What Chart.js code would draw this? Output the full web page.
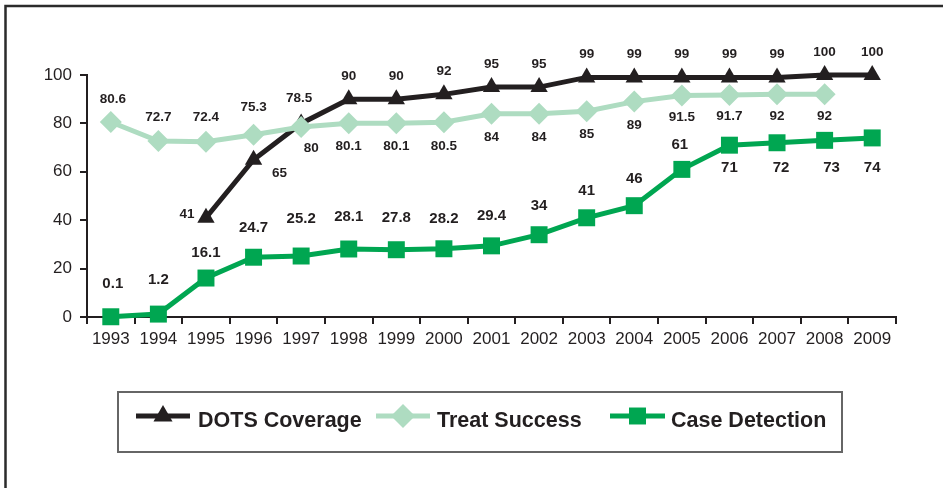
<!DOCTYPE html>
<html>
<head>
<meta charset="utf-8">
<script src="https://cdn.jsdelivr.net/npm/chart.js@4"></script>
<style>
  body { margin: 0; background: #fff; }
  #wrap { position: relative; width: 943px; height: 488px; }
</style>
</head>
<body>
<div id="wrap"><canvas id="chart" width="943" height="488"></canvas></div>
<script>
// data
const years = ["1993", "1994", "1995", "1996", "1997", "1998", "1999", "2000", "2001",
  "2002", "2003", "2004", "2005", "2006", "2007", "2008", "2009"];
const dotsCoverage = [null, null, 41, 65, 80, 90, 90, 92, 95, 95, 99, 99, 99, 99, 99, 100, 100];
const treatSuccess = [80.6, 72.7, 72.4, 75.3, 78.5, 80.1, 80.1, 80.5, 84, 84, 85, 89, 91.5, 91.7, 92, 92, null];
const caseDetection = [0.1, 1.2, 16.1, 24.7, 25.2, 28.1, 27.8, 28.2, 29.4, 34, 41, 46, 61, 71, 72, 73, 74];
const yTicks = [0, 20, 40, 60, 80, 100];

// label placement (dx, dy from the point), kept apart from the values
const dotsLabelPos = [null, null, [-19, -3], [26, 14], [10, 25], [0, -23], [0, -23], [0, -23], [0, -23],
  [0, -23], [0, -23], [0, -23], [0, -23], [0, -23], [0, -23], [0, -23], [0, -23]];
const treatLabelPos = [[2, -23], [0, -24], [0, -25], [0, -27], [-2, -29], [0, 23], [0, 23], [0, 24], [0, 24],
  [0, 24], [0, 23], [0, 24], [0, 22], [0, 21], [0, 22], [0, 22], null];
const caseLabelPos = [[2, -33], [0, -34], [0, -25], [0, -29], [0, -37], [0, -32], [0, -32], [0, -30], [0, -30],
  [0, -29], [0, -27], [0, -27], [-2, -25], [0, 23], [4, 25], [7, 28], [0, 30]];

const INK = "#231f20";
const FONT = '"Liberation Sans", Arial, sans-serif';

const labelPlugin = {
  id: "pointLabels",
  afterDatasetsDraw(chart) {
    const ctx = chart.ctx;
    ctx.save();
    ctx.fillStyle = INK;
    ctx.textAlign = "center";
    ctx.textBaseline = "middle";
    chart.data.datasets.forEach((ds, i) => {
      const meta = chart.getDatasetMeta(i);
      ctx.font = "bold " + ds.labelSize + "px " + FONT;
      meta.data.forEach((pt, j) => {
        const v = ds.data[j];
        const pos = ds.labelPos[j];
        if (v == null || !pos) return;
        ctx.fillText(String(v), pt.x + pos[0], pt.y + pos[1]);
      });
    });
    ctx.restore();
  }
};

const framePlugin = {
  id: "frame",
  beforeDraw(chart) {
    const ctx = chart.ctx;
    ctx.save();
    ctx.fillStyle = "#fff";
    ctx.fillRect(0, 0, chart.width, chart.height);
    ctx.strokeStyle = "#2b2b2b";
    ctx.lineWidth = 2.5;
    ctx.beginPath();
    ctx.moveTo(5.5, chart.height + 5);
    ctx.lineTo(5.5, 6);
    ctx.lineTo(chart.width + 5, 6);
    ctx.stroke();
    ctx.restore();
  },
  afterDraw(chart) {
    // legend box drawn by hand: line sample with the marker in its middle
    const ctx = chart.ctx;
    ctx.save();
    ctx.strokeStyle = "#666";
    ctx.lineWidth = 2;
    ctx.strokeRect(118, 392, 724, 60);
    const items = [
      { ds: 0, x0: 136, x1: 190, tx: 198, r: 11 },
      { ds: 1, x0: 376, x1: 430, tx: 437, r: 12 },
      { ds: 2, x0: 610, x1: 665, tx: 671, r: 12 }
    ];
    items.forEach((it) => {
      const ds = chart.data.datasets[it.ds];
      const y = 416;
      ctx.strokeStyle = ds.borderColor;
      ctx.lineWidth = 5;
      ctx.beginPath();
      ctx.moveTo(it.x0, y);
      ctx.lineTo(it.x1, y);
      ctx.stroke();
      ctx.fillStyle = ds.borderColor;
      Chart.helpers.drawPoint(ctx, { pointStyle: ds.pointStyle, radius: it.r, rotation: 0, borderWidth: 0 },
        (it.x0 + it.x1) / 2, y);
      ctx.fillStyle = INK;
      ctx.font = "bold 21.5px " + FONT;
      ctx.textAlign = "left";
      ctx.textBaseline = "middle";
      ctx.fillText(ds.label, it.tx, 421);
    });
    ctx.restore();
  }
};

function lineSet(label, data, color, style, radius, order, labelPos, labelSize) {
  return {
    label: label,
    data: data,
    borderColor: color,
    backgroundColor: color,
    borderWidth: 5,
    tension: 0,
    clip: false,
    pointStyle: style,
    pointRadius: radius,
    pointHoverRadius: radius,
    pointBorderWidth: 0,
    pointBackgroundColor: color,
    order: order,
    labelPos: labelPos,
    labelSize: labelSize
  };
}

new Chart(document.getElementById("chart"), {
  type: "line",
  data: {
    labels: years,
    datasets: [
      lineSet("DOTS Coverage", dotsCoverage, INK, "triangle", 10, 1, dotsLabelPos, 13.5),
      lineSet("Treat Success", treatSuccess, "#aedcc1", "rectRot", 11, 0, treatLabelPos, 13.5),
      lineSet("Case Detection", caseDetection, "#00a651", "rect", 12, 2, caseLabelPos, 15)
    ]
  },
  options: {
    responsive: false,
    animation: false,
    events: [],
    layout: { padding: { left: 7, top: 75, right: 47, bottom: 141 } },
    plugins: { legend: { display: false }, tooltip: { enabled: false } },
    scales: {
      x: {
        offset: true,
        grid: { offset: true, drawOnChartArea: false, tickLength: 7, color: INK, lineWidth: 2 },
        border: { color: INK, width: 2 },
        ticks: { color: INK, font: { family: FONT, size: 17 }, padding: 5, maxRotation: 0, autoSkip: false },
        afterFit: (s) => { s.height = 30; }
      },
      y: {
        min: 0,
        max: 100,
        afterBuildTicks: (s) => { s.ticks = yTicks.map((v) => ({ value: v })); },
        grid: { drawOnChartArea: false, tickLength: 7, color: INK, lineWidth: 2 },
        border: { color: INK, width: 2 },
        ticks: { color: INK, font: { family: FONT, size: 17 }, padding: 8 },
        afterFit: (s) => { s.width = 80; }
      }
    }
  },
  plugins: [framePlugin, labelPlugin]
});
</script>
</body>
</html>
